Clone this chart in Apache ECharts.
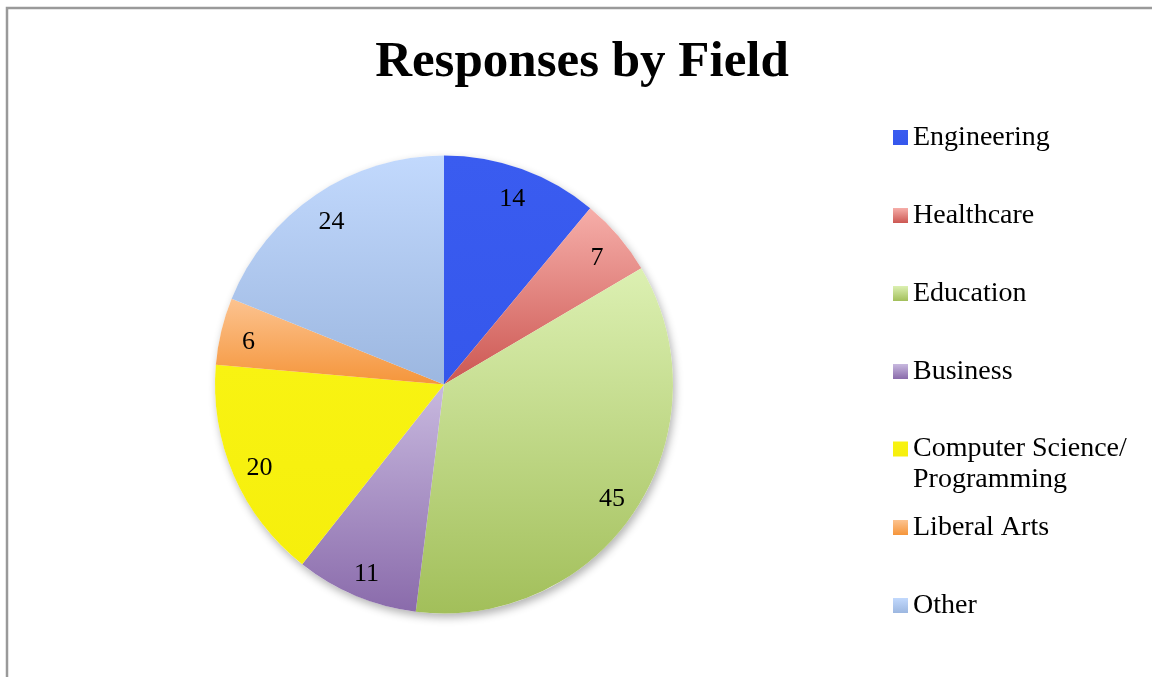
<!DOCTYPE html>
<html>
<head>
<meta charset="utf-8">
<script src="https://cdn.jsdelivr.net/npm/echarts@6/dist/echarts.min.js"></script>
<style>
html,body{margin:0;padding:0;background:#fff;}
#chart{width:1152px;height:677px;}
</style>
</head>
<body>
<div id="chart"></div>
<script>
var titleText = 'Responses by Field';
var categories = ['Engineering', 'Healthcare', 'Education', 'Business', 'Computer Science/\nProgramming', 'Liberal Arts', 'Other'];
var values = [14, 7, 45, 11, 20, 6, 24];
var topColors = ['#3a5cf0', '#f6aea9', '#dcf0b2', '#c8b9df', '#f8f312', '#fcc390', '#c2d9fd'];
var bottomColors = ['#3557ec', '#cc5752', '#a2bf5a', '#8a6bab', '#f6ef0c', '#f5953a', '#9cb7e0'];

var FONT = '"Liberation Serif", "DejaVu Serif", serif';
var chart = echarts.init(document.getElementById('chart'), null, {renderer: 'canvas'});

function grad(i) {
  return new echarts.graphic.LinearGradient(0, 0, 0, 1, [
    {offset: 0, color: topColors[i]},
    {offset: 1, color: bottomColors[i]}
  ]);
}

var pieData = categories.map(function (c, i) {
  return {name: c, value: values[i], itemStyle: {color: grad(i)}};
});
var labelData = categories.map(function (c, i) {
  return {name: c, value: values[i]};
});
var total = values.reduce(function (a, b) { return a + b; }, 0);

var CENTER = [444, 384.5];
var R = 229;

var legends = categories.map(function (c, i) {
  var multi = c.indexOf('\n') >= 0;
  return {
    data: [c],
    orient: 'vertical',
    left: 893,
    top: multi ? (122.5 + i * 78 - 32) : (123.5 + i * 78),
    padding: 0,
    itemWidth: 15,
    itemHeight: 15,
    itemGap: 0,
    selectedMode: false,
    icon: 'rect',
    formatter: multi ? function (n) { return '\n' + n; } : '{name}',
    textStyle: multi ? {
      fontFamily: FONT, fontSize: 28, color: '#000', lineHeight: 31
    } : {
      fontFamily: FONT, fontSize: 28, color: '#000', lineHeight: 15
    }
  };
});

chart.setOption({
  animation: false,
  backgroundColor: '#fff',
  title: {
    text: titleText,
    left: 582,
    textAlign: 'center',
    top: 37,
    padding: 0,
    textStyle: {fontFamily: FONT, fontWeight: 'bold', fontSize: 51, color: '#000', lineHeight: 51}
  },
  legend: legends,
  graphic: [{
    type: 'rect',
    shape: {x: 7, y: 8, width: 2000, height: 2000},
    style: {fill: 'none', stroke: '#9a9a9a', lineWidth: 2.5},
    silent: true
  }],
  series: [
    {
      type: 'pie',
      name: 'shadow',
      center: CENTER,
      radius: [0, R],
      silent: true,
      z: 1,
      label: {show: false},
      labelLine: {show: false},
      data: [{value: total, name: '__bg', itemStyle: {color: '#fff', shadowBlur: 8, shadowOffsetX: 2, shadowOffsetY: 4, shadowColor: 'rgba(0,0,0,0.3)'}}]
    },
    {
      type: 'pie',
      name: 'Responses',
      center: CENTER,
      radius: [0, R],
      startAngle: 90,
      clockwise: true,
      z: 2,
      silent: true,
      label: {show: false},
      labelLine: {show: false},
      itemStyle: {borderWidth: 0},
      data: pieData
    },
    {
      type: 'pie',
      name: 'labels',
      center: CENTER,
      radius: [167, R],
      startAngle: 90,
      clockwise: true,
      z: 3,
      silent: true,
      itemStyle: {color: 'rgba(0,0,0,0)', borderWidth: 0},
      label: {
        show: true,
        position: 'inside',
        formatter: '{c}',
        offset: [0, 4],
        fontFamily: FONT,
        fontSize: 26,
        color: '#000'
      },
      labelLine: {show: false},
      data: labelData
    }
  ]
});
</script>
</body>
</html>
